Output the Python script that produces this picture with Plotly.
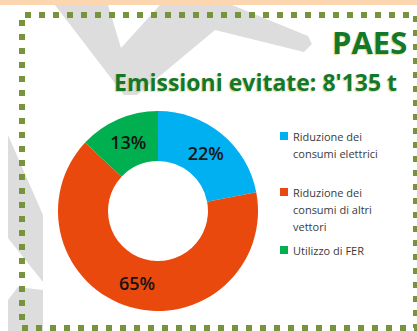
import plotly.graph_objects as go

# Emission savings split (PAES)
legend_lines = [
    ["Riduzione dei", "consumi elettrici"],
    ["Riduzione dei", "consumi di altri", "vettori"],
    ["Utilizzo di FER"],
]
labels = [" ".join(lines) for lines in legend_lines]
values = [22, 65, 13]
colors = ["#00B0F0", "#E9490C", "#00B050"]

title_main = "PAES"
title_sub = "Emissioni evitate: 8'135 t"

W, H = 417, 331


def px(x):
    return x / W


def py(y):
    return 1 - y / H


def path(points):
    return "M " + " L ".join(f"{px(x):.5f},{py(y):.5f}" for x, y in points) + " Z"


fig = go.Figure()

fig.add_trace(go.Pie(
    labels=labels,
    values=values,
    hole=0.5,
    sort=False,
    direction="clockwise",
    rotation=0,
    marker=dict(colors=colors, line=dict(width=0)),
    textinfo="percent",
    textposition="inside",
    insidetextorientation="horizontal",
    insidetextfont=dict(family="Open Sans", size=18, color="#141414", weight=600),
    domain=dict(x=[px(58), px(258)], y=[py(311), py(111)]),
    showlegend=False,
))

shapes = []
wm = dict(type="path", xref="paper", yref="paper", fillcolor="#DDDDDD",
          line=dict(width=0), layer="below")
# background watermark strokes
shapes.append(dict(wm, path=path([(55, 5), (108, 5), (121, 48), (160, 5), (232, 5),
                                   (308, 36), (312, 44), (304, 52), (215, 30),
                                   (137, 95), (124, 95)])))
shapes.append(dict(wm, path=path([(8, 135), (43, 215), (43, 282), (8, 238)])))
shapes.append(dict(wm, path=path([(8, 300), (18, 287), (43, 290), (43, 331), (8, 331)])))

# top band
shapes.append(dict(type="rect", xref="paper", yref="paper",
                   x0=0, x1=1, y0=py(5), y1=1,
                   fillcolor="#FBD6B0", line=dict(width=0), layer="above"))
# dotted frame
shapes.append(dict(type="rect", xref="paper", yref="paper",
                   x0=px(22), x1=px(416), y0=py(328), y1=py(15),
                   line=dict(color="#77933C", width=6, dash="6px,8px"),
                   fillcolor="rgba(0,0,0,0)", layer="above"))

annotations = []
title_font = dict(family="Open Sans", color="#13782A",
                  shadow="-1px 1px 1px rgba(200,190,60,0.55)", weight="bold")
annotations.append(dict(text=title_main, xref="paper", yref="paper",
                        x=px(409), y=py(42), xanchor="right", yanchor="middle",
                        showarrow=False, font=dict(title_font, size=31)))
annotations.append(dict(text=title_sub, xref="paper", yref="paper",
                        x=px(399), y=py(82), xanchor="right", yanchor="middle",
                        showarrow=False, font=dict(title_font, size=23)))

# legend: coloured square plus wrapped label lines
item_tops = [136, 192, 250]
line_gap = 17
for lines, color, top in zip(legend_lines, colors, item_tops):
    shapes.append(dict(type="rect", xref="paper", yref="paper",
                       x0=px(280), x1=px(288), y0=py(top + 4), y1=py(top - 4),
                       fillcolor=color, line=dict(width=0)))
    for i, line in enumerate(lines):
        annotations.append(dict(text=line, xref="paper", yref="paper",
                                x=px(291), y=py(top + i * line_gap),
                                xanchor="left", yanchor="middle", showarrow=False,
                                font=dict(family="Open Sans", size=11, color="#3A3A3A")))

fig.update_layout(
    width=W, height=H,
    margin=dict(l=0, r=0, t=0, b=0),
    paper_bgcolor="white",
    plot_bgcolor="white",
    shapes=shapes,
    annotations=annotations,
)

fig.write_html("out.html")
